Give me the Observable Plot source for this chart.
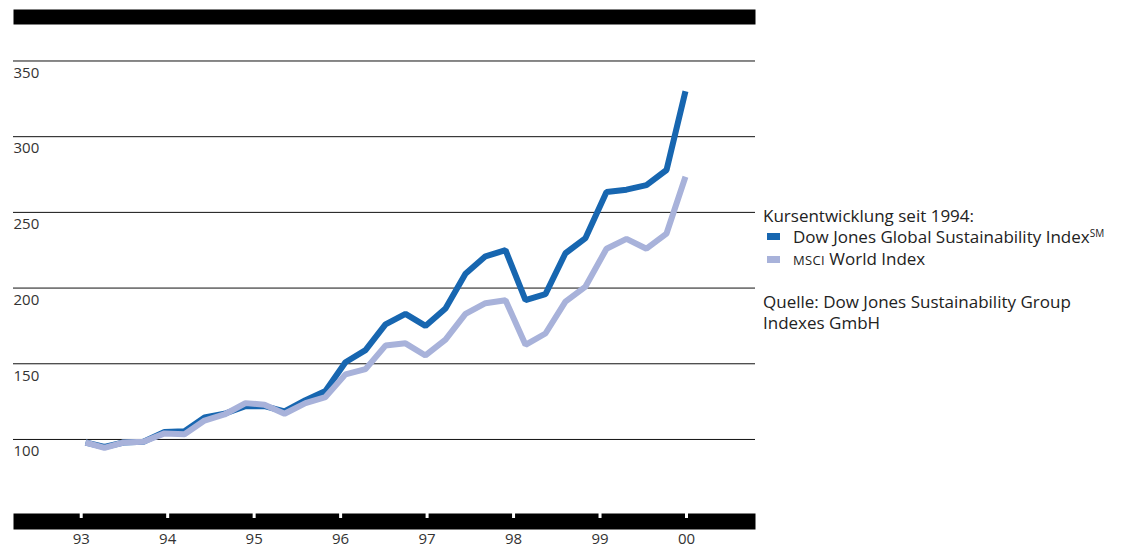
<!DOCTYPE html>
<html>
<head>
<meta charset="utf-8">
<script src="https://cdn.jsdelivr.net/npm/d3@7"></script>
<script src="https://cdn.jsdelivr.net/npm/@observablehq/plot@0.6"></script>
<style>
  html, body { margin: 0; padding: 0; background: #fff; }
  body { width: 1131px; height: 547px; position: relative; overflow: hidden; font-family: "Open Sans", "Noto Sans", sans-serif; }
  #chart { position: absolute; left: 0; top: 0; }
  #legend { position: absolute; left: 763px; top: 205px; font-size: 17px; line-height: 21.3px; color: #222; white-space: nowrap; }
  .row { display: flex; align-items: center; }
  .sw { width: 13px; height: 7px; margin: 0 13px 0 4px; display: inline-block; }
  .sc { font-size: 13px; letter-spacing: 0.3px; }
  sup { font-size: 10px; vertical-align: 6px; line-height: 0; }
</style>
</head>
<body>
<div id="chart"></div>
<div id="legend">
  <div>Kursentwicklung seit 1994:</div>
  <div class="row"><span class="sw" style="background:#1766b0"></span><span>Dow Jones Global Sustainability Index<sup>SM</sup></span></div>
  <div class="row"><span class="sw" style="background:#a8b2da"></span><span><span class="sc">MSCI</span> World Index</span></div>
  <div style="height:20px"></div>
  <div>Quelle: Dow Jones Sustainability Group</div>
  <div>Indexes GmbH</div>
</div>
<script>
// Time positions (fractional years) of the observations
const dates = [1993.050, 1993.269, 1993.489, 1993.720, 1993.963, 1994.195, 1994.426, 1994.657,
  1994.900, 1995.120, 1995.351, 1995.594, 1995.825, 1996.056, 1996.288, 1996.519, 1996.750,
  1996.981, 1997.213, 1997.444, 1997.675, 1997.907, 1998.138, 1998.369, 1998.600, 1998.832,
  1999.075, 1999.306, 1999.537, 1999.769, 1999.988];
// Dow Jones Global Sustainability Index
const djsi = [98, 95, 98, 98.5, 105, 105.5, 114.5, 117, 122, 122, 118.5, 126, 132, 151, 159,
  176, 183, 175, 186.5, 209.5, 221, 225, 192, 196, 223, 233, 263.5, 265, 268, 278, 330];
// MSCI World Index
const msci = [98, 94.5, 98, 98.5, 104, 103.5, 112.5, 116.5, 124, 123, 117, 124, 128, 143, 146.5,
  162, 163.5, 155.5, 166, 183, 190, 192, 162.5, 170, 191, 201, 226, 232.5, 226, 236, 273.5];
const yTicks = [100, 150, 200, 250, 300, 350];
const xTicks = [1993, 1994, 1995, 1996, 1997, 1998, 1999, 2000];
const xTickLabels = ["93", "94", "95", "96", "97", "98", "99", "00"];

const dataDJ = dates.map((d, i) => ({x: d, y: djsi[i]}));
const dataMS = dates.map((d, i) => ({x: d, y: msci[i]}));

const chart = Plot.plot({
  width: 760,
  height: 547,
  marginLeft: 13,
  marginRight: 5,
  marginTop: 24,
  marginBottom: 34,
  style: {fontFamily: "'Open Sans', 'Noto Sans', sans-serif", fontSize: "15px", color: "#333", background: "white"},
  x: {domain: [1992.217, 2000.798], axis: null, label: null},
  y: {domain: [51.1, 374.1], axis: null, label: null},
  marks: [
    Plot.gridY(yTicks, {stroke: "#111", strokeOpacity: 1, strokeWidth: 1}),
    Plot.text(yTicks, {y: d => d, frameAnchor: "left", text: d => String(d), textAnchor: "start", dy: 12, fill: "#333", fontSize: 15}),
    Plot.line(dataDJ, {x: "x", y: "y", stroke: "#1766b0", strokeWidth: 6, strokeLinejoin: "miter", strokeLinecap: "butt"}),
    Plot.line(dataMS, {x: "x", y: "y", stroke: "#a8b2da", strokeWidth: 6, strokeLinejoin: "miter", strokeLinecap: "butt"}),
    Plot.frame({anchor: "top", stroke: "black", strokeWidth: 15, dy: -7.5, strokeLinecap: "butt"}),
    Plot.frame({anchor: "bottom", stroke: "black", strokeWidth: 16, dy: 8, strokeLinecap: "butt"}),
    Plot.axisX(xTicks, {
      anchor: "bottom", stroke: "white", strokeWidth: 3, tickSize: 5, tickPadding: 15,
      tickFormat: (d, i) => xTickLabels[i], fill: "#333", fontSize: 15, label: null
    })
  ]
});
document.getElementById("chart").appendChild(chart);
</script>
</body>
</html>
